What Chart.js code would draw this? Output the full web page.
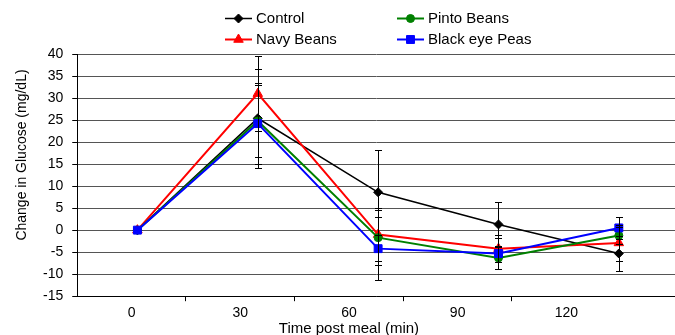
<!DOCTYPE html>
<html>
<head>
<meta charset="utf-8">
<script src="https://cdn.jsdelivr.net/npm/chart.js@4.4.0/dist/chart.umd.min.js"></script>
<style>
html,body{margin:0;padding:0;background:#fff}
#wrap{width:675px;height:335px}
</style>
</head>
<body>
<div id="wrap"><canvas id="c" width="675" height="335"></canvas></div>
<script>
// DATA
const times=[0,30,60,90,120];
const tickLabels=['0','30','60','90','120'];
const yTicks=[-15,-10,-5,0,5,10,15,20,25,30,35,40];

const control=[0,25.4,8.6,1.3,-5.3];
const navy=[0,31,-1,-4.2,-2.9];
const pinto=[0,24.8,-1.7,-6.3,-1.2];
const blackeye=[0,24.2,-4.2,-5.3,0.5];

const controlErr=[0,11.2,9.6,5.1,4.0];
const navyErr=[0,8.5,6,3.1,4.1];
const pintoErr=[0,8.2,6.3,2.6,2];
const blackeyeErr=[0,9.2,7.2,3.6,2.5];

const FONT='"Liberation Sans", Arial, sans-serif';

const series=[
  {name:'Control',color:'#000000',style:'rectRot',r:4.5,w:1.5,vals:control,err:controlErr,order:3},
  {name:'Navy Beans',color:'#ff0000',style:'triangle',r:5.5,w:2,vals:navy,err:navyErr,order:2},
  {name:'Pinto Beans',color:'#008000',style:'circle',r:4,w:2,vals:pinto,err:pintoErr,order:1},
  {name:'Black eye Peas',color:'#0000ff',style:'rect',r:5.6,w:2,vals:blackeye,err:blackeyeErr,order:0}
];
// legend grid: [series index, column x, row y]
const legendSlots=[[0,225,18],[2,397,18],[1,225,39],[3,397,39]];

// ═══════════════════════════════════════════════════════
const errorBars={id:'errorBars',afterDatasetsDraw(chart){
  const ctx=chart.ctx,x=chart.scales.x,y=chart.scales.y;
  ctx.save();ctx.strokeStyle='#000';ctx.lineWidth=1;
  series.forEach(s=>{
    s.err.forEach((e,i)=>{
      if(!e) return;
      const px=Math.round(x.getPixelForValue(times[i]))+0.5;
      const top=Math.round(y.getPixelForValue(s.vals[i]+e))+0.5;
      const bot=Math.round(y.getPixelForValue(s.vals[i]-e))+0.5;
      ctx.beginPath();
      ctx.moveTo(px,top);ctx.lineTo(px,bot);
      ctx.moveTo(px-3.5,top);ctx.lineTo(px+3.5,top);
      ctx.moveTo(px-3.5,bot);ctx.lineTo(px+3.5,bot);
      ctx.stroke();
    });
  });
  ctx.restore();
}};

const overlay={id:'overlay',afterDraw(chart){
  const ctx=chart.ctx,xl=chart.scales.xl;
  ctx.save();
  ctx.fillStyle='#000';
  // legend
  ctx.font='15px '+FONT;ctx.textBaseline='middle';ctx.textAlign='left';
  legendSlots.forEach(([si,lx,ly])=>{
    const s=series[si];
    ctx.strokeStyle=s.color;ctx.fillStyle=s.color;ctx.lineWidth=s.w;
    ctx.beginPath();ctx.moveTo(lx,ly+0.5);ctx.lineTo(lx+27,ly+0.5);ctx.stroke();
    ctx.lineWidth=1;
    Chart.helpers.drawPoint(ctx,{pointStyle:s.style,radius:s.r,rotation:0,borderWidth:1},lx+13.5,ly+0.5);
    ctx.fillStyle='#000';
    ctx.fillText(s.name,lx+31,ly+1);
  });
  // axis titles
  ctx.font='15px '+FONT;ctx.textAlign='center';ctx.textBaseline='alphabetic';
  ctx.fillText('Time post meal (min)',xl.getPixelForValue(60),333);
  ctx.translate(22,155);ctx.rotate(-Math.PI/2);
  ctx.font='14px '+FONT;ctx.textBaseline='middle';
  ctx.fillText('Change in Glucose (mg/dL)',0,0);
  ctx.restore();
}};

const boundaries=times.slice(0,-1).map(t=>t+15);
const XL_MIN=-15,XL_MAX=150;
const noSidePad=sc=>{sc.paddingLeft=0;sc.paddingRight=0;};

new Chart(document.getElementById('c').getContext('2d'),{
  type:'line',
  data:{
    datasets:series.map(s=>({
      label:s.name,
      data:s.vals.map((v,i)=>({x:times[i],y:v})),
      borderColor:s.color,backgroundColor:s.color,
      borderWidth:s.w,pointStyle:s.style,pointRadius:s.r,pointHoverRadius:s.r,
      pointBorderWidth:1,tension:0,order:s.order
    }))
  },
  options:{
    responsive:false,animation:false,devicePixelRatio:1,
    layout:{autoPadding:false,padding:{left:34,top:54,right:0,bottom:9}},
    plugins:{legend:{display:false},tooltip:{enabled:false}},
    scales:{
      x:{type:'linear',min:-15,max:134,display:false,afterFit:noSidePad},
      xl:{type:'linear',position:'bottom',min:XL_MIN,max:XL_MAX,afterFit:noSidePad,
        afterBuildTicks:sc=>{sc.ticks=[XL_MIN,...times,...boundaries,XL_MAX].sort((a,b)=>a-b).map(v=>({value:v}));},
        grid:{drawOnChartArea:false,drawTicks:true,tickLength:5,tickWidth:1,
          tickColor:c=>boundaries.includes(c.tick&&c.tick.value)?'#000':'rgba(0,0,0,0)'},
        border:{display:true,color:'#000',width:1},
        ticks:{autoSkip:false,maxRotation:0,padding:4,color:'#000',font:{family:FONT,size:14},
          callback:v=>{const i=times.indexOf(v);return i>=0?tickLabels[i]:'';}}
      },
      y:{type:'linear',min:yTicks[0],max:yTicks[yTicks.length-1],
        afterBuildTicks:sc=>{sc.ticks=yTicks.map(v=>({value:v}));},
        grid:{color:'#555',lineWidth:1,drawTicks:true,tickLength:5,tickColor:'#000'},
        border:{display:true,color:'#000',width:1},
        ticks:{padding:9,color:'#000',font:{family:FONT,size:14}}
      }
    }
  },
  plugins:[errorBars,overlay]
});
</script>
</body>
</html>
